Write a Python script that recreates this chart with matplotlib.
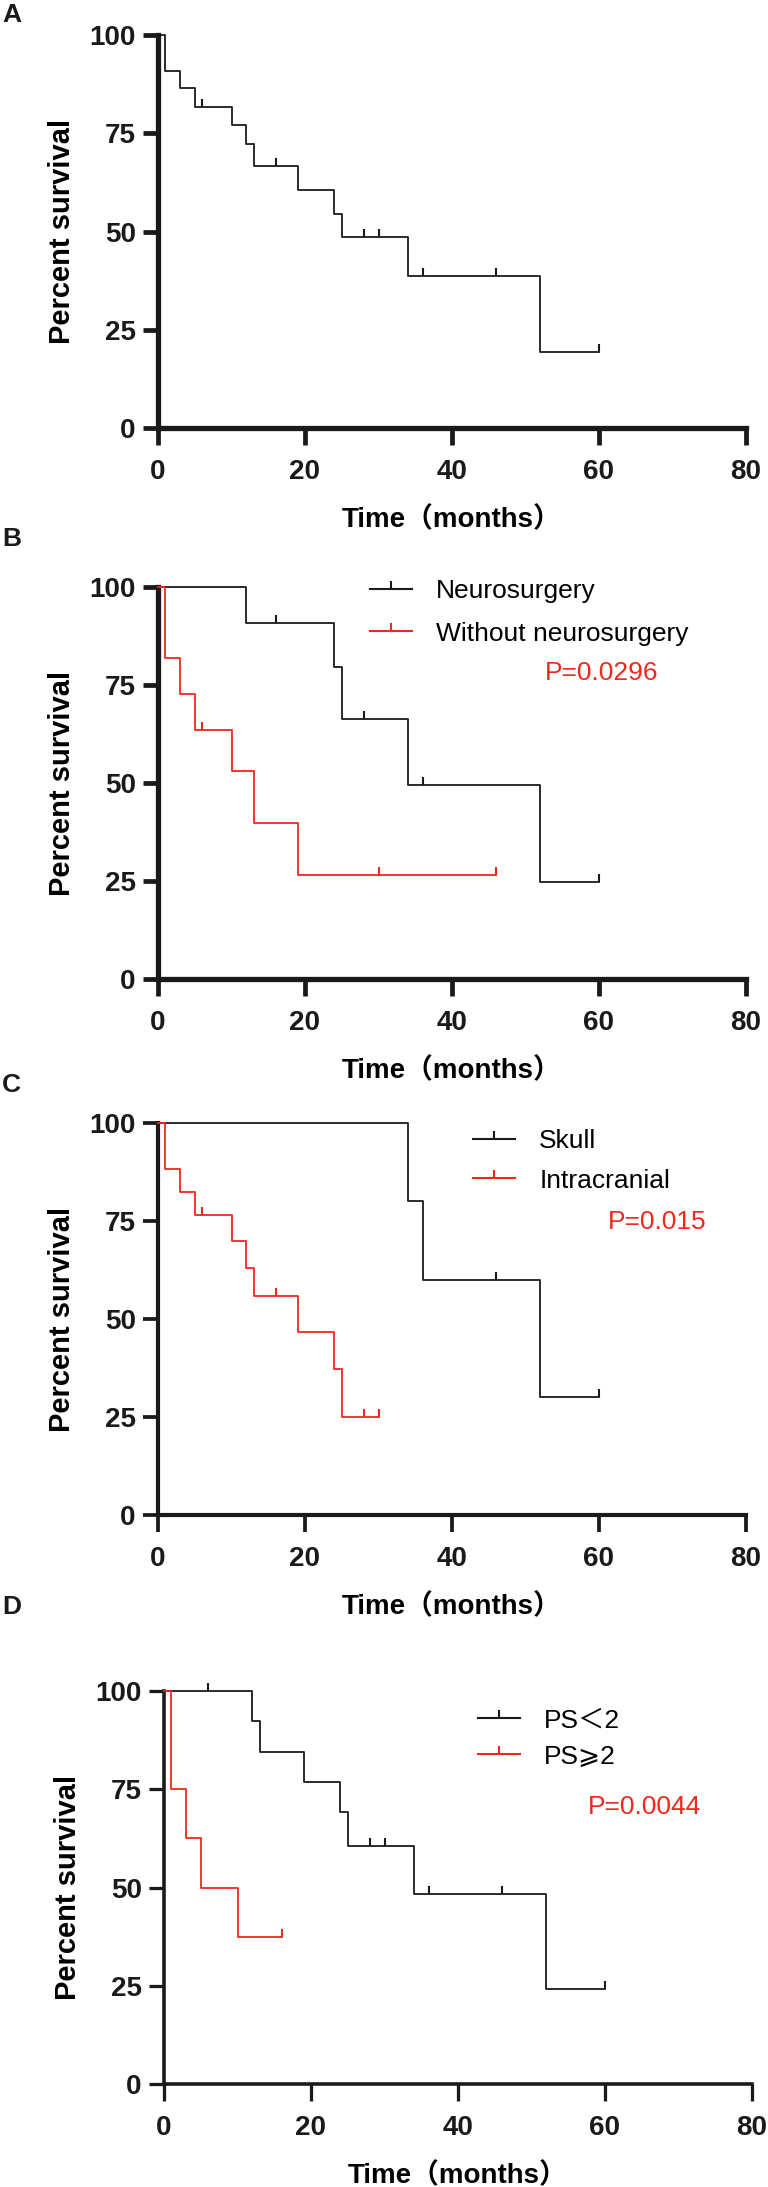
import numpy as np
import matplotlib
matplotlib.use("Agg")
import matplotlib.pyplot as plt
from matplotlib.path import Path
from matplotlib.lines import Line2D

plt.rcParams['font.family'] = ['Liberation Sans', 'Noto Sans CJK SC', 'DejaVu Sans']

RED = '#f0281e'
BLACK = '#1a1a1a'

# panel A - all patients
a_time = [0, 1, 3, 5, 10, 12, 13, 19, 24, 25, 34, 52, 60]
a_surv = [100, 90.9, 86.4, 81.8, 77.0, 72.2, 66.7, 60.6, 54.5, 48.5, 38.8, 19.4, 19.4]
a_cens = [6, 16, 28, 30, 36, 46, 60]

# panel B - neurosurgery
b1_time = [0, 12, 24, 25, 34, 52, 60]
b1_surv = [100, 90.9, 79.5, 66.2, 49.6, 24.8, 24.8]
b1_cens = [16, 28, 36, 60]
b2_time = [0, 1, 3, 5, 10, 13, 19, 46]
b2_surv = [100, 81.8, 72.7, 63.6, 53.0, 39.8, 26.5, 26.5]
b2_cens = [6, 30, 46]

# panel C - metastasis site
c1_time = [0, 34, 36, 52, 60]
c1_surv = [100, 80, 60, 30, 30]
c1_cens = [46, 60]
c2_time = [0, 1, 3, 5, 10, 12, 13, 19, 24, 25, 30]
c2_surv = [100, 88.2, 82.4, 76.5, 70.0, 63.0, 55.9, 46.6, 37.3, 24.9, 24.9]
c2_cens = [6, 16, 28, 30]

# panel D - performance status
d1_time = [0, 12, 13, 19, 24, 25, 34, 52, 60]
d1_surv = [100, 92.3, 84.6, 76.9, 69.2, 60.5, 48.4, 24.2, 24.2]
d1_cens = [6, 28, 30, 36, 46, 60]
d2_time = [0, 1, 3, 5, 10, 16]
d2_surv = [100, 75, 62.5, 50, 37.5, 37.5]
d2_cens = [16]

# censor tick pointing up from the curve
tick_up = Path([(0, 0), (0, 1)], [Path.MOVETO, Path.LINETO])


def km(ax, t, s, cens, color):
    t = np.array(t, float)
    s = np.array(s, float)
    ax.step(t, s, where='post', color=color, lw=1.3, clip_on=False, zorder=3)
    idx = np.searchsorted(t, cens, side='right') - 1
    ax.plot(cens, s[idx], ls='none', marker=tick_up, ms=11, mew=1.5,
            color=color, clip_on=False, zorder=3)


def style(ax, lw):
    ax.set_xlim(0, 80)
    ax.set_ylim(0, 100)
    ax.set_xticks([0, 20, 40, 60, 80])
    ax.set_yticks([0, 25, 50, 75, 100])
    for side in ['top', 'right']:
        ax.spines[side].set_visible(False)
    for side in ['left', 'bottom']:
        ax.spines[side].set_linewidth(lw)
        ax.spines[side].set_color(BLACK)
    ax.tick_params(axis='x', length=12, width=lw * 0.9, pad=10, labelsize=20, colors=BLACK)
    ax.tick_params(axis='y', length=11, width=lw * 0.9, pad=5, labelsize=20, colors=BLACK)
    for lab in ax.get_xticklabels() + ax.get_yticklabels():
        lab.set_fontweight('bold')
    ax.set_xlabel('Time（months）', fontsize=20, fontweight='bold', labelpad=16)
    ax.set_ylabel('Percent survival', fontsize=21, fontweight='bold', labelpad=10)


W, H = 768, 2187
fig = plt.figure(figsize=(W / 100, H / 100), dpi=100)


def make_axes(left, right, top, bottom):
    return fig.add_axes([left / W, 1 - bottom / H, (right - left) / W, (bottom - top) / H])


axA = make_axes(158, 746, 35, 428)
axB = make_axes(158, 746, 587, 979)
axC = make_axes(158, 746, 1123, 1515)
axD = make_axes(164, 752, 1691, 2084)

km(axA, a_time, a_surv, a_cens, BLACK)
km(axB, b1_time, b1_surv, b1_cens, BLACK)
km(axB, b2_time, b2_surv, b2_cens, RED)
km(axC, c1_time, c1_surv, c1_cens, BLACK)
km(axC, c2_time, c2_surv, c2_cens, RED)
km(axD, d1_time, d1_surv, d1_cens, BLACK)
km(axD, d2_time, d2_surv, d2_cens, RED)

style(axA, 3.8)
style(axB, 3.8)
style(axC, 3.0)
style(axD, 2.6)


def legend(ax, labels, anchor, spacing):
    handles = [Line2D([0], [0], color=c, lw=1.5, marker=tick_up, ms=11, mew=1.5,
                      markevery=[0])
               for c in (BLACK, RED)]
    leg = ax.legend(handles, labels, loc='upper left', bbox_to_anchor=anchor,
                    frameon=False, fontsize=19, handlelength=1.6, handletextpad=0.9,
                    labelspacing=spacing, borderpad=0, borderaxespad=0,
                    numpoints=1)
    return leg


legend(axB, ['Neurosurgery', 'Without neurosurgery'], (0.36, 1.02), 0.7)
legend(axC, ['Skull', 'Intracranial'], (0.536, 0.985), 0.6)
legend(axD, ['PS＜2', 'PS⩾2'], (0.534, 0.955), 0.45)

axB.text(0.658, 0.781, 'P=0.0296', transform=axB.transAxes, color=RED,
         fontsize=19, va='center', ha='left')
axC.text(0.765, 0.747, 'P=0.015', transform=axC.transAxes, color=RED,
         fontsize=19, va='center', ha='left')
axD.text(0.721, 0.705, 'P=0.0044', transform=axD.transAxes, color=RED,
         fontsize=19, va='center', ha='left')

for letter, y in [('A', 15), ('B', 539), ('C', 1085), ('D', 1607)]:
    fig.text(2 / W, 1 - y / H, letter, fontsize=19, fontweight='bold',
             va='center', ha='left', color=BLACK)

fig.savefig('out.png', dpi=100)
